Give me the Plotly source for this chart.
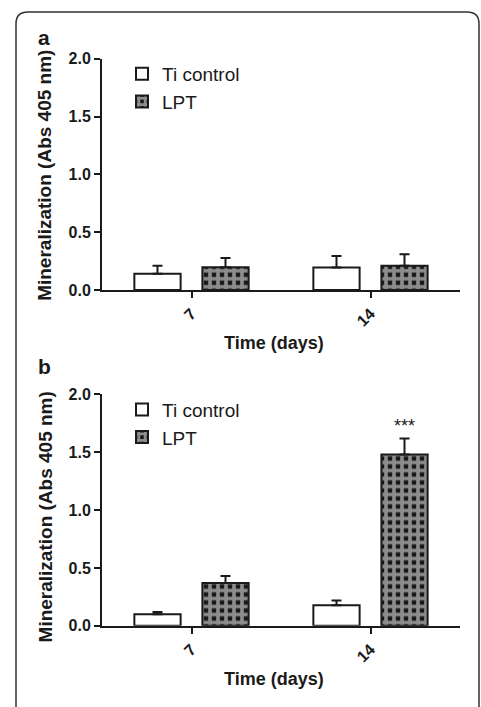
import plotly.graph_objects as go

# ---- data ----
days = ["7", "14"]
series_names = ["Ti control", "LPT"]
ti_a = [0.14, 0.195]
ti_a_err = [0.07, 0.10]
lpt_a = [0.197, 0.21]
lpt_a_err = [0.08, 0.10]
ti_b = [0.10, 0.178]
ti_b_err = [0.02, 0.04]
lpt_b = [0.37, 1.48]
lpt_b_err = [0.06, 0.14]
y_tick_vals = [0.0, 0.5, 1.0, 1.5, 2.0]
y_tick_text = ["0.0", "0.5", "1.0", "1.5", "2.0"]
panel_labels = ["a", "b"]
x_title = "Time (days)"
y_title = "Mineralization (Abs 405 nm)"
sig_label = "***"

W, H = 481, 707
FONT = "Liberation Sans, Arial, sans-serif"
INK = "#1a1a1a"

def px_x(p):
    return p / W

def px_y(p):
    return 1 - p / H

fig = go.Figure()

def add_panel(ti, ti_err, lpt, lpt_err, xa, ya, legend):
    fig.add_trace(go.Bar(
        x=days, y=ti, name=series_names[0], xaxis=xa, yaxis=ya, legend=legend,
        marker=dict(color="white", line=dict(color=INK, width=2)),
        error_y=dict(type="data", array=ti_err, arrayminus=[0] * len(ti_err),
                     symmetric=False, color=INK, thickness=2, width=5),
    ))
    fig.add_trace(go.Bar(
        x=days, y=lpt, name=series_names[1], xaxis=xa, yaxis=ya, legend=legend,
        marker=dict(color=INK, line=dict(color=INK, width=2),
                    pattern=dict(shape="+", fgcolor="white", bgcolor=INK,
                                 size=8, solidity=0.7)),
        error_y=dict(type="data", array=lpt_err, arrayminus=[0] * len(lpt_err),
                     symmetric=False, color=INK, thickness=2, width=5),
    ))

add_panel(ti_a, ti_a_err, lpt_a, lpt_a_err, "x", "y", "legend")
add_panel(ti_b, ti_b_err, lpt_b, lpt_b_err, "x2", "y2", "legend2")

x_dom = [px_x(102), px_x(460)]
ya_dom = [px_y(289), px_y(52)]
yb_dom = [px_y(633), px_y(396)]

xcommon = dict(type="category", range=[-0.5, 1.5], showline=True, linecolor=INK,
               linewidth=2, ticks="outside", ticklen=6, tickwidth=2, tickcolor=INK,
               tickangle=-45, showgrid=False, zeroline=False, domain=x_dom,
               tickfont=dict(family=FONT, size=16, color=INK, weight="bold"))
ycommon = dict(range=[0, 2.0], showline=True, linecolor=INK, linewidth=2,
               ticks="outside", ticklen=6, tickwidth=2, tickcolor=INK,
               tickvals=y_tick_vals, ticktext=y_tick_text, showgrid=False,
               zeroline=False,
               tickfont=dict(family=FONT, size=16, color=INK, weight="bold"))

fig.update_layout(
    width=W, height=H, margin=dict(l=0, r=0, t=0, b=0),
    paper_bgcolor="white", plot_bgcolor="white",
    barmode="group", bargap=0.24, bargroupgap=0.32,
    font=dict(family=FONT, color=INK),
    xaxis=dict(xcommon, anchor="y"),
    yaxis=dict(ycommon, domain=ya_dom, anchor="x"),
    xaxis2=dict(xcommon, anchor="y2"),
    yaxis2=dict(ycommon, domain=yb_dom, anchor="x2"),
    legend=dict(x=px_x(122), y=px_y(48), xanchor="left", yanchor="top",
                bgcolor="rgba(0,0,0,0)", font=dict(family=FONT, size=19, color=INK),
                itemclick=False),
    legend2=dict(x=px_x(122), y=px_y(392), xanchor="left", yanchor="top",
                 bgcolor="rgba(0,0,0,0)", font=dict(family=FONT, size=19, color=INK),
                 itemclick=False),
)

annots = []
# axis titles
for xt_y, yt_c in [(343, 172), (688, 522)]:
    annots.append(dict(text=x_title, xref="paper", yref="paper", x=px_x(274), y=px_y(xt_y),
                       showarrow=False, xanchor="center", yanchor="middle",
                       font=dict(family=FONT, size=18, color=INK, weight="bold")))
    annots.append(dict(text=y_title, xref="paper", yref="paper", x=px_x(45),
                       y=px_y(yt_c), textangle=-90, showarrow=False,
                       xanchor="center", yanchor="middle",
                       font=dict(family=FONT, size=19, color=INK, weight="bold")))
# panel labels
for lab, ly in zip(panel_labels, [30, 367]):
    annots.append(dict(text=lab, xref="paper", yref="paper", x=px_x(44), y=px_y(ly),
                       showarrow=False, xanchor="center", yanchor="middle",
                       font=dict(family=FONT, size=21, color=INK, weight="bold")))
# significance marker above the LPT day-14 bar (category index of that day)
sig_idx = days.index("14")
annots.append(dict(text=sig_label, xref="x2", yref="y2", x=sig_idx,
                   y=lpt_b[sig_idx] + lpt_b_err[sig_idx], xshift=34, yshift=0,
                   showarrow=False, xanchor="center", yanchor="bottom",
                   font=dict(family=FONT, size=18, color=INK)))
fig.update_layout(annotations=annots)

# rounded frame around the figure
rx, ry = 12 / W, 12 / H
x0, x1, yt = px_x(16), px_x(479), px_y(4)
path = (f"M {x0},-0.1 L {x0},{yt - ry} Q {x0},{yt} {x0 + rx},{yt} "
        f"L {x1 - rx},{yt} Q {x1},{yt} {x1},{yt - ry} L {x1},-0.1")
fig.add_shape(type="path", path=path, xref="paper", yref="paper",
              line=dict(color="#333333", width=1.5))

fig.write_html("out.html")
